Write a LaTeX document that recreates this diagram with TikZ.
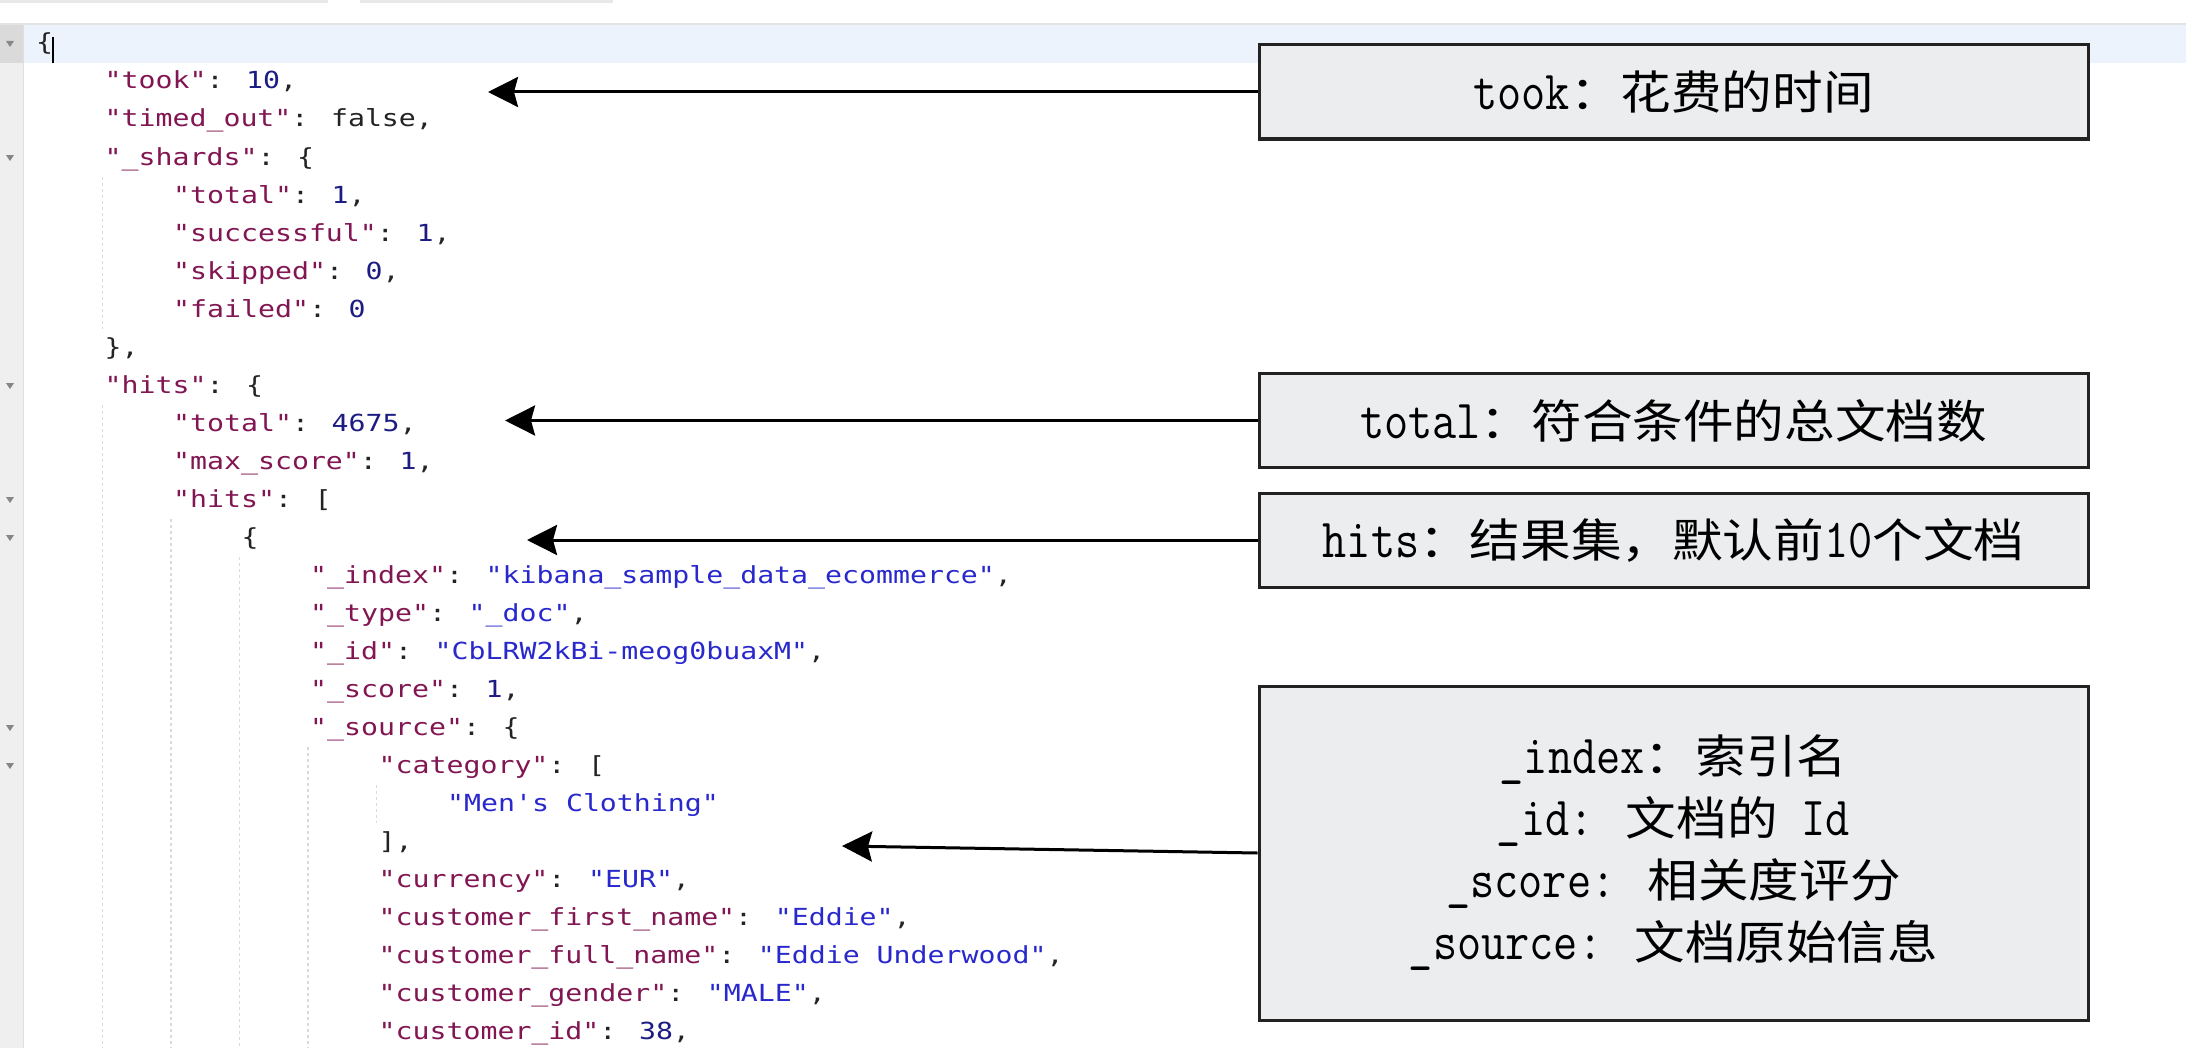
\documentclass[tikz,border=0pt]{standalone}
\usepackage{fontspec}
\usepackage{graphicx}
\usetikzlibrary{arrows.meta}
\newfontfamily\codefont[FakeStretch=1.2]{DejaVu Sans Mono}
\newfontfamily\cjkfont[FakeStretch=1.1]{Noto Sans CJK SC}
\definecolor{keyc}{RGB}{130,22,82}
\definecolor{strc}{RGB}{40,40,205}
\definecolor{numc}{RGB}{28,28,130}
\definecolor{punc}{RGB}{35,35,35}
\definecolor{boxfill}{RGB}{235,237,238}
\definecolor{boxline}{RGB}{34,34,34}
\definecolor{guidec}{RGB}{218,218,218}
\definecolor{foldc}{RGB}{135,135,135}
\definecolor{hlband}{RGB}{237,243,252}
\definecolor{gutterc}{RGB}{239,239,239}
\definecolor{gutterhl}{RGB}{218,218,218}
\newcommand\jk[1]{\textcolor{keyc}{"#1"}}
\newcommand\js[1]{\textcolor{strc}{"#1"}}
\newcommand\jn[1]{\textcolor{numc}{#1}}
\newcommand\bl[1]{\scalebox{0.92}[1.08]{\ttfamily\fontsize{51pt}{62pt}\selectfont #1}}
\tikzset{
  code/.style={anchor=base west, inner sep=0pt, font=\codefont\fontsize{23.5pt}{38pt}\selectfont, text=punc},
  note/.style={draw=boxline, line width=3pt, fill=boxfill, minimum width=829pt, minimum height=94pt, inner sep=0pt, font=\cjkfont\fontsize{46pt}{62pt}\selectfont, align=center, text=black},
  arr/.style={line width=3pt, draw=black, -{Stealth[length=30pt,width=30pt,inset=4pt]}},
  guide/.style={draw=guidec, line width=1.5pt, dash pattern=on 3pt off 3pt},
  fold/.style={fill=foldc, draw=none},
}
\begin{document}
\begin{tikzpicture}[x=1pt,y=-1pt]
\path[use as bounding box, fill=white] (0,0) rectangle (2186,1062);
% editor chrome
\fill[gray!18] (0,0) rectangle (328,3);
\fill[gray!18] (360,0) rectangle (613,3);
\fill[gray!22] (0,23) rectangle (2186,25);
\fill[hlband] (23,25) rectangle (2186,63);
\fill[gutterc] (0,25) rectangle (23,1048);
\fill[gutterhl] (0,25) rectangle (23,63);
\draw[gray!25, line width=1pt] (23,25) -- (23,1048);
% fold markers
\foreach \i in {0,3,9,12,13,18,19}{
  \fill[fold] (6,{44+38*\i-3}) -- (14,{44+38*\i-3}) -- (10,{44+38*\i+3}) -- cycle;
}
% indent guides
\draw[guide] (102.5,177) -- (102.5,329);
\draw[guide] (102.5,405) -- (102.5,1048);
\draw[guide] (171,519) -- (171,1048);
\draw[guide] (239.5,557) -- (239.5,1048);
\draw[guide] (308,747) -- (308,1048);
\draw[guide] (376.5,785) -- (376.5,823);
% code lines
\node[code] (l0) at (36,51) {\{};
\draw[line width=2.5pt, black] (53,37) -- (53,63);
\node[code] (l1) at (104.5,89) {\jk{took}: \jn{10},};
\node[code] (l2) at (104.5,127) {\jk{timed\_out}: false,};
\node[code] (l3) at (104.5,165) {\jk{\_shards}: \{};
\node[code] (l4) at (173,203) {\jk{total}: \jn{1},};
\node[code] (l5) at (173,241) {\jk{successful}: \jn{1},};
\node[code] (l6) at (173,279) {\jk{skipped}: \jn{0},};
\node[code] (l7) at (173,317) {\jk{failed}: \jn{0}};
\node[code] (l8) at (104.5,355) {\},};
\node[code] (l9) at (104.5,393) {\jk{hits}: \{};
\node[code] (l10) at (173,431) {\jk{total}: \jn{4675},};
\node[code] (l11) at (173,469) {\jk{max\_score}: \jn{1},};
\node[code] (l12) at (173,507) {\jk{hits}: [};
\node[code] (l13) at (241.5,545) {\{};
\node[code] (l14) at (310,583) {\jk{\_index}: \js{kibana\_sample\_data\_ecommerce},};
\node[code] (l15) at (310,621) {\jk{\_type}: \js{\_doc},};
\node[code] (l16) at (310,659) {\jk{\_id}: \js{CbLRW2kBi-meog0buaxM},};
\node[code] (l17) at (310,697) {\jk{\_score}: \jn{1},};
\node[code] (l18) at (310,735) {\jk{\_source}: \{};
\node[code] (l19) at (378.5,773) {\jk{category}: [};
\node[code] (l20) at (447,811) {\js{Men's Clothing}};
\node[code] (l21) at (378.5,849) {],};
\node[code] (l22) at (378.5,887) {\jk{currency}: \js{EUR},};
\node[code] (l23) at (378.5,925) {\jk{customer\_first\_name}: \js{Eddie},};
\node[code] (l24) at (378.5,963) {\jk{customer\_full\_name}: \js{Eddie Underwood},};
\node[code] (l25) at (378.5,1001) {\jk{customer\_gender}: \js{MALE},};
\node[code] (l26) at (378.5,1039) {\jk{customer\_id}: \jn{38},};
% note boxes
\node[note] (n1) at (1673.5,92) {\bl{took}：花费的时间};
\node[note] (n2) at (1673.5,420.5) {\bl{total}：符合条件的总文档数};
\node[note] (n3) at (1673.5,540) {\bl{hits}：结果集，默认前\bl{10}个文档};
\node[note, minimum height=334pt] (n4) at (1673.5,853) {\bl{\_index}：索引名\\\bl{\_id: }文档的\bl{ Id}\\\bl{\_score: }相关度评分\\\bl{\_source: }文档原始信息};
% arrows
\coordinate (t1) at (488,92);
\coordinate (t2) at (505,420.5);
\coordinate (t3) at (527,540);
\coordinate (t4) at (842,846);
\draw[arr] (n1.west) -- (t1);
\draw[arr] (n2.west) -- (t2);
\draw[arr] (n3.west) -- (t3);
\draw[arr] (n4.west) -- (t4);
\end{tikzpicture}
\end{document}
